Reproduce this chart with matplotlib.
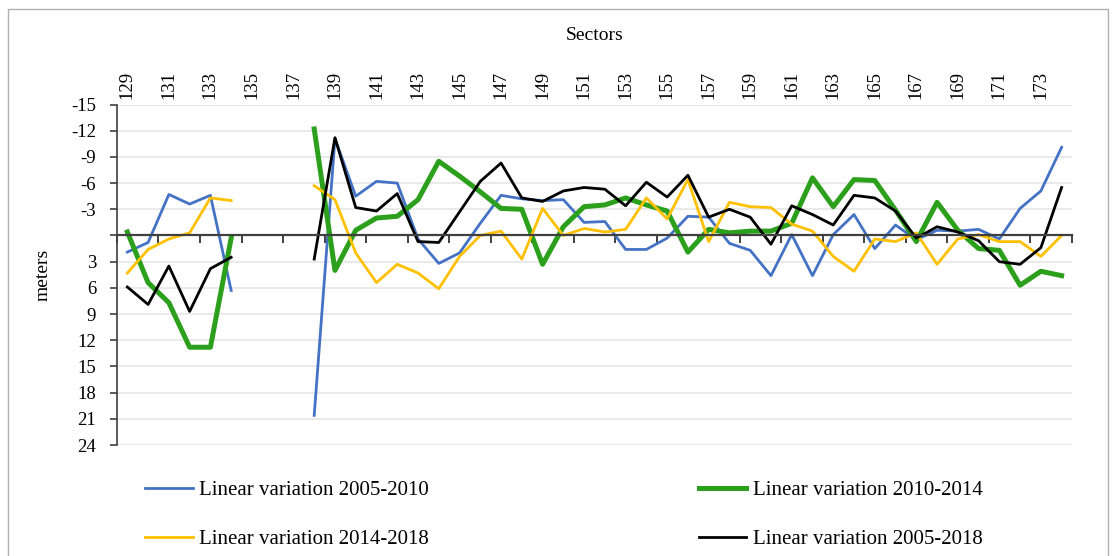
import numpy as np
import matplotlib.pyplot as plt
from matplotlib.patches import Rectangle

# Sectors 129..174 (135-137 have no data)
sectors = np.arange(129, 175)
nan = np.nan

var_2005_2010 = [1.9, 0.8, -4.7, -3.6, -4.6, 6.3, nan, nan, nan,
                 20.6, -11.1, -4.5, -6.2, -6.0, 0.4, 3.2, 2.0, -1.4, -4.6,
                 -4.2, -4.0, -4.1, -1.5, -1.6, 1.6, 1.6, 0.3, -2.2, -2.1,
                 0.9, 1.7, 4.6, -0.1, 4.6, -0.1, -2.4, 1.5, -1.2, 0.5,
                 -0.6, -0.5, -0.7, 0.4, -3.1, -5.1, -10.1]
var_2010_2014 = [-0.4, 5.4, 7.7, 12.8, 12.8, 0.3, nan, nan, nan,
                 -12.2, 4.0, -0.6, -2.0, -2.2, -4.1, -8.5, -6.8, -5.0, -3.1,
                 -3.0, 3.3, -1.0, -3.3, -3.5, -4.3, -3.5, -2.8, 1.9, -0.7,
                 -0.3, -0.5, -0.5, -1.4, -6.6, -3.3, -6.4, -6.3, -2.9, 0.7,
                 -3.8, -0.6, 1.5, 1.7, 5.7, 4.1, 4.6]
var_2014_2018 = [4.3, 1.6, 0.4, -0.3, -4.3, -4.0, nan, nan, nan,
                 -5.7, -4.1, 2.0, 5.4, 3.3, 4.3, 6.1, 2.4, 0.0, -0.5,
                 2.7, -3.1, 0.0, -0.8, -0.4, -0.7, -4.3, -1.9, -6.4, 0.7,
                 -3.8, -3.3, -3.2, -1.3, -0.5, 2.4, 4.1, 0.4, 0.7, -0.3,
                 3.3, 0.4, -0.1, 0.7, 0.7, 2.4, 0.0]
var_2005_2018 = [5.9, 7.9, 3.5, 8.7, 3.8, 2.5, nan, nan, nan,
                 2.7, -11.2, -3.2, -2.8, -4.8, 0.7, 0.8, -2.7, -6.2, -8.3,
                 -4.3, -3.9, -5.1, -5.5, -5.3, -3.4, -6.1, -4.4, -6.9, -2.1,
                 -3.0, -2.1, 1.0, -3.4, -2.4, -1.2, -4.6, -4.3, -2.8, 0.3,
                 -1.0, -0.4, 0.6, 3.0, 3.3, 1.4, -5.5]

yticks = list(range(-15, 25, 3))
ytick_labels = ['' if t == 0 else str(t) for t in yticks]

plt.rcParams['font.family'] = ['Liberation Serif', 'DejaVu Serif']

fig = plt.figure(figsize=(11.14, 5.56), dpi=100)
ax = fig.add_axes([0.105, 0.1996, 0.8573, 0.6124])

# outer chart frame
fig.patches.append(Rectangle((8 / 1114, -0.01), 1100 / 1114, (556 - 9) / 556 + 0.01,
                             transform=fig.transFigure, fill=False,
                             edgecolor='#B0B0B0', linewidth=1.0))

l1, = ax.plot(sectors, var_2005_2010, color='#4472C4', lw=2.0)
l2, = ax.plot(sectors, var_2010_2014, color='#2CA01C', lw=3.6)
l3, = ax.plot(sectors, var_2014_2018, color='#FFC000', lw=2.0)
l4, = ax.plot(sectors, var_2005_2018, color='black', lw=2.0)

ax.set_xlim(128.5, 174.5)
ax.set_ylim(24, -15)

ax.set_yticks(yticks)
ax.set_yticklabels(ytick_labels, fontsize=13.5)
ax.yaxis.grid(True, color='#E8E8E8', lw=1.3)
ax.set_axisbelow(True)
ax.tick_params(axis='y', direction='out', length=5, width=1.2, color='#404040', pad=10)

# category axis crossing at zero, ticks between categories
ax.spines['bottom'].set_position(('data', 0))
ax.spines['bottom'].set_color('#404040')
ax.spines['bottom'].set_linewidth(1.6)
ax.spines['left'].set_color('#404040')
ax.spines['left'].set_linewidth(1.2)
ax.spines['top'].set_visible(False)
ax.spines['right'].set_visible(False)
ax.set_xticks(np.arange(128.5, 175, 2))
ax.set_xticklabels([])
ax.tick_params(axis='x', direction='out', length=6, width=1.4, color='#404040')

top = ax.secondary_xaxis('top')
top.set_xticks(sectors[::2])
top.set_xticklabels([str(s) for s in sectors[::2]], rotation=90, fontsize=13.5)
top.tick_params(length=0, pad=4)
top.spines['top'].set_visible(False)
top.set_xlabel('Sectors', fontsize=14, labelpad=22)

ax.set_ylabel('meters', fontsize=14, labelpad=14)

fig.legend([l1, l3, l2, l4],
           ['Linear variation 2005-2010', 'Linear variation 2014-2018',
            'Linear variation 2010-2014', 'Linear variation 2005-2018'],
           ncol=2, loc='center', bbox_to_anchor=(0.506, 0.0737), frameon=False,
           fontsize=15, handlelength=2.3, handletextpad=0.3,
           columnspacing=12.95, labelspacing=1.4)

fig.savefig('out.png', dpi=100)
